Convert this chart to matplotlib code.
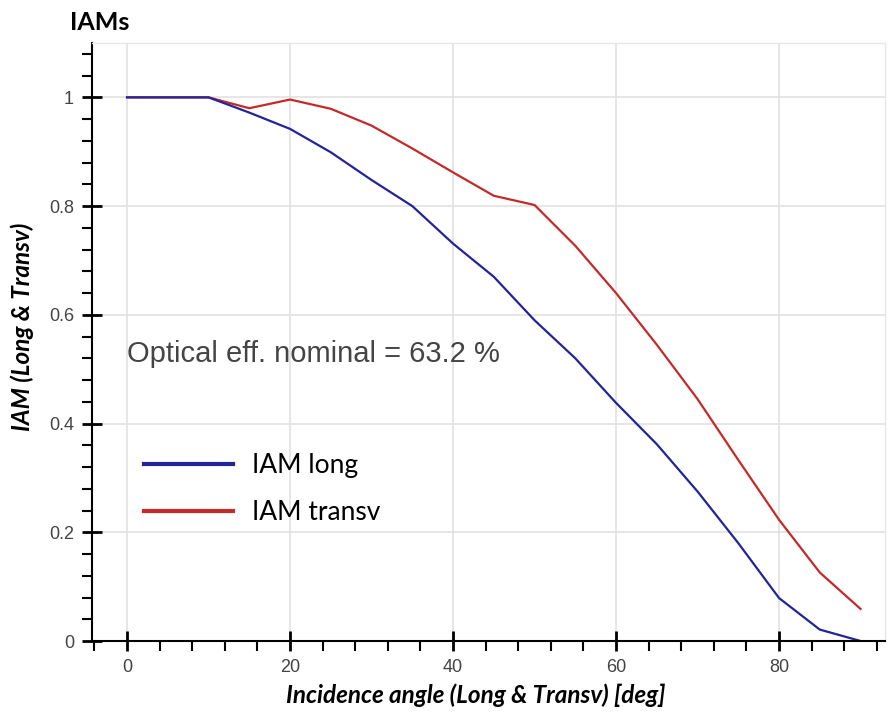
import matplotlib
matplotlib.use("Agg")
import matplotlib.pyplot as plt
from matplotlib.ticker import MultipleLocator
from matplotlib.lines import Line2D

# incidence angles [deg]
angles = [0, 5, 10, 15, 20, 25, 30, 35, 40, 45, 50, 55, 60, 65, 70, 75, 80, 85, 90]
# IAM longitudinal
iam_long = [1.0, 1.0, 1.0, 0.972, 0.942, 0.899, 0.848, 0.80, 0.731, 0.670, 0.590,
            0.520, 0.438, 0.362, 0.275, 0.18, 0.079, 0.021, 0.0]
# IAM transversal
iam_transv = [1.0, 1.0, 1.0, 0.98, 0.996, 0.979, 0.948, 0.906, 0.862, 0.819, 0.802,
              0.727, 0.64, 0.545, 0.445, 0.333, 0.223, 0.126, 0.059]

optical_eff = 63.2

blue = "#23239a"
red = "#c42a2a"

fig = plt.figure(figsize=(8.89, 7.15), dpi=100)
ax = fig.add_axes([92/889, 74/715, (885-92)/889, (641-43)/715])

ax.plot(angles, iam_transv, color=red, lw=1.6)
ax.plot(angles, iam_long, color=blue, lw=1.6)

ax.set_xlim(-4.3, 93)
ax.set_ylim(0, 1.1)

ax.xaxis.set_major_locator(MultipleLocator(20))
ax.xaxis.set_minor_locator(MultipleLocator(4))
ax.yaxis.set_minor_locator(MultipleLocator(0.04))
ax.set_yticks([0, 0.2, 0.4, 0.6, 0.8, 1.0])
ax.set_yticklabels(["0", "0.2", "0.4", "0.6", "0.8", "1"])

ax.grid(True, which="major", color="#e2e2e2", lw=1.2)
ax.set_axisbelow(True)

for s in ["left", "bottom"]:
    ax.spines[s].set_color("black")
    ax.spines[s].set_linewidth(1.5)
for s in ["top", "right"]:
    ax.spines[s].set_color("#e6e6e6")
    ax.spines[s].set_linewidth(1.0)

ax.tick_params(which="major", direction="inout", length=14, width=2, color="black",
               labelsize=13, labelcolor="#444444", pad=6)
ax.tick_params(which="minor", direction="out", length=7, width=1.5, color="black")
for lab in ax.get_xticklabels() + ax.get_yticklabels():
    lab.set_family("Liberation Sans")

# axis labels, bold italic
ax.set_xlabel("Incidence angle (Long & Transv) [deg]", fontsize=17.5, fontweight="bold",
              style="italic", family="Lato", va="center")
ax.xaxis.set_label_coords((476-92)/793, (641-695)/598)
ax.set_ylabel("IAM (Long & Transv)", fontsize=17.5, fontweight="bold",
              style="italic", family="Lato", va="center")
ax.yaxis.set_label_coords((22-92)/793, (641-327)/598)

fig.text(70/889, 1-22/715, "IAMs", fontsize=18, fontweight="bold", family="Lato",
         va="center", ha="left")

ax.text(0, 0.528, "Optical eff. nominal = %.1f %%" % optical_eff,
        fontsize=21, color="#444444", family="Liberation Sans", va="center", ha="left")

handles = [Line2D([], [], color=blue, lw=3), Line2D([], [], color=red, lw=3)]
ax.legend(handles, ["IAM long", "IAM transv"], loc="center left",
          bbox_to_anchor=((133-92)/793, (641-489)/598), frameon=False,
          prop={"family": "Lato", "size": 19}, handlelength=3.4,
          handletextpad=0.7, labelspacing=0.85, borderaxespad=0)

fig.savefig("out.png", dpi=100)
